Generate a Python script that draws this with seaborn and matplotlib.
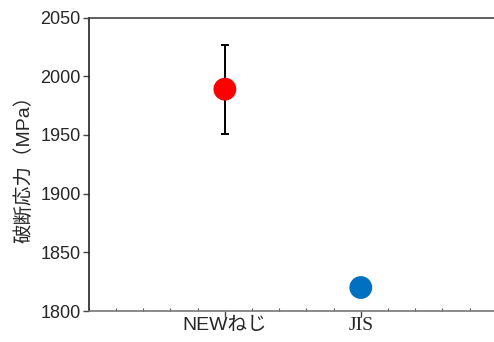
import matplotlib
matplotlib.use("Agg")
import matplotlib.pyplot as plt
from matplotlib.ticker import MultipleLocator, NullFormatter
import seaborn as sns
import pandas as pd

categories = ["NEWねじ", "JIS"]
stress = [1989, 1820]
stress_err = [38, 0]
colors = ["#ff0000", "#0070c0"]
yticks = [1800, 1850, 1900, 1950, 2000, 2050]

sns.set_theme(style="white")
plt.rcParams["font.family"] = ["Liberation Sans", "Noto Sans CJK JP"]

df = pd.DataFrame({"材料": categories, "応力": stress, "pos": [0, 1]})

fig = plt.figure(figsize=(4.94, 3.42), dpi=100)
ax = fig.add_axes([0.180, 0.0906, 0.820, 0.858])

ax.errorbar(df["pos"][:1], df["応力"][:1], yerr=stress_err[:1], fmt="none",
            ecolor="black", elinewidth=1.4, capsize=2.8, capthick=1.4, zorder=2)
sns.scatterplot(data=df, x="pos", y="応力", hue="材料", palette=colors,
                s=270, edgecolor="none", legend=False, ax=ax, zorder=3)

ax.set_xlim(-1, 1.98)
ax.set_ylim(1800, 2050)
ax.set_xticks(df["pos"])
ax.xaxis.set_major_formatter(NullFormatter())
ax.set_yticks(yticks)
ax.set_yticklabels([str(v) for v in yticks], fontsize=13, family=["Liberation Sans"])
ax.xaxis.set_minor_locator(MultipleLocator(0.2))

ax.tick_params(axis="both", which="major", direction="out", length=4, width=1,
               color="#444444", pad=2, bottom=True, left=True)
ax.tick_params(axis="x", which="minor", direction="in", length=2, width=0.8,
               color="#555555", bottom=True)

# category names under the ticks: sans for the Japanese one, serif for JIS
label_families = {"NEWねじ": ["Liberation Sans", "Noto Sans CJK JP"],
                  "JIS": ["Liberation Serif"]}
for pos, name in zip(df["pos"], df["材料"]):
    ax.annotate(name, xy=(pos, 0), xycoords=ax.get_xaxis_transform(),
                xytext=(0, -4.5), textcoords="offset points",
                ha="center", va="top", fontsize=14,
                family=label_families[name], color="#262626")

ax.spines["right"].set_visible(False)
ax.spines["left"].set_color("#222222")
ax.spines["top"].set_color("#444444")
ax.spines["bottom"].set_color("#777777")
for s in ["left", "top", "bottom"]:
    ax.spines[s].set_linewidth(1.2)

ax.set_xlabel("")
ax.set_ylabel("破断応力（MPa）", fontsize=14,
              family=["Liberation Sans", "Noto Sans CJK JP"], labelpad=5)

fig.savefig("out.png", dpi=100)
